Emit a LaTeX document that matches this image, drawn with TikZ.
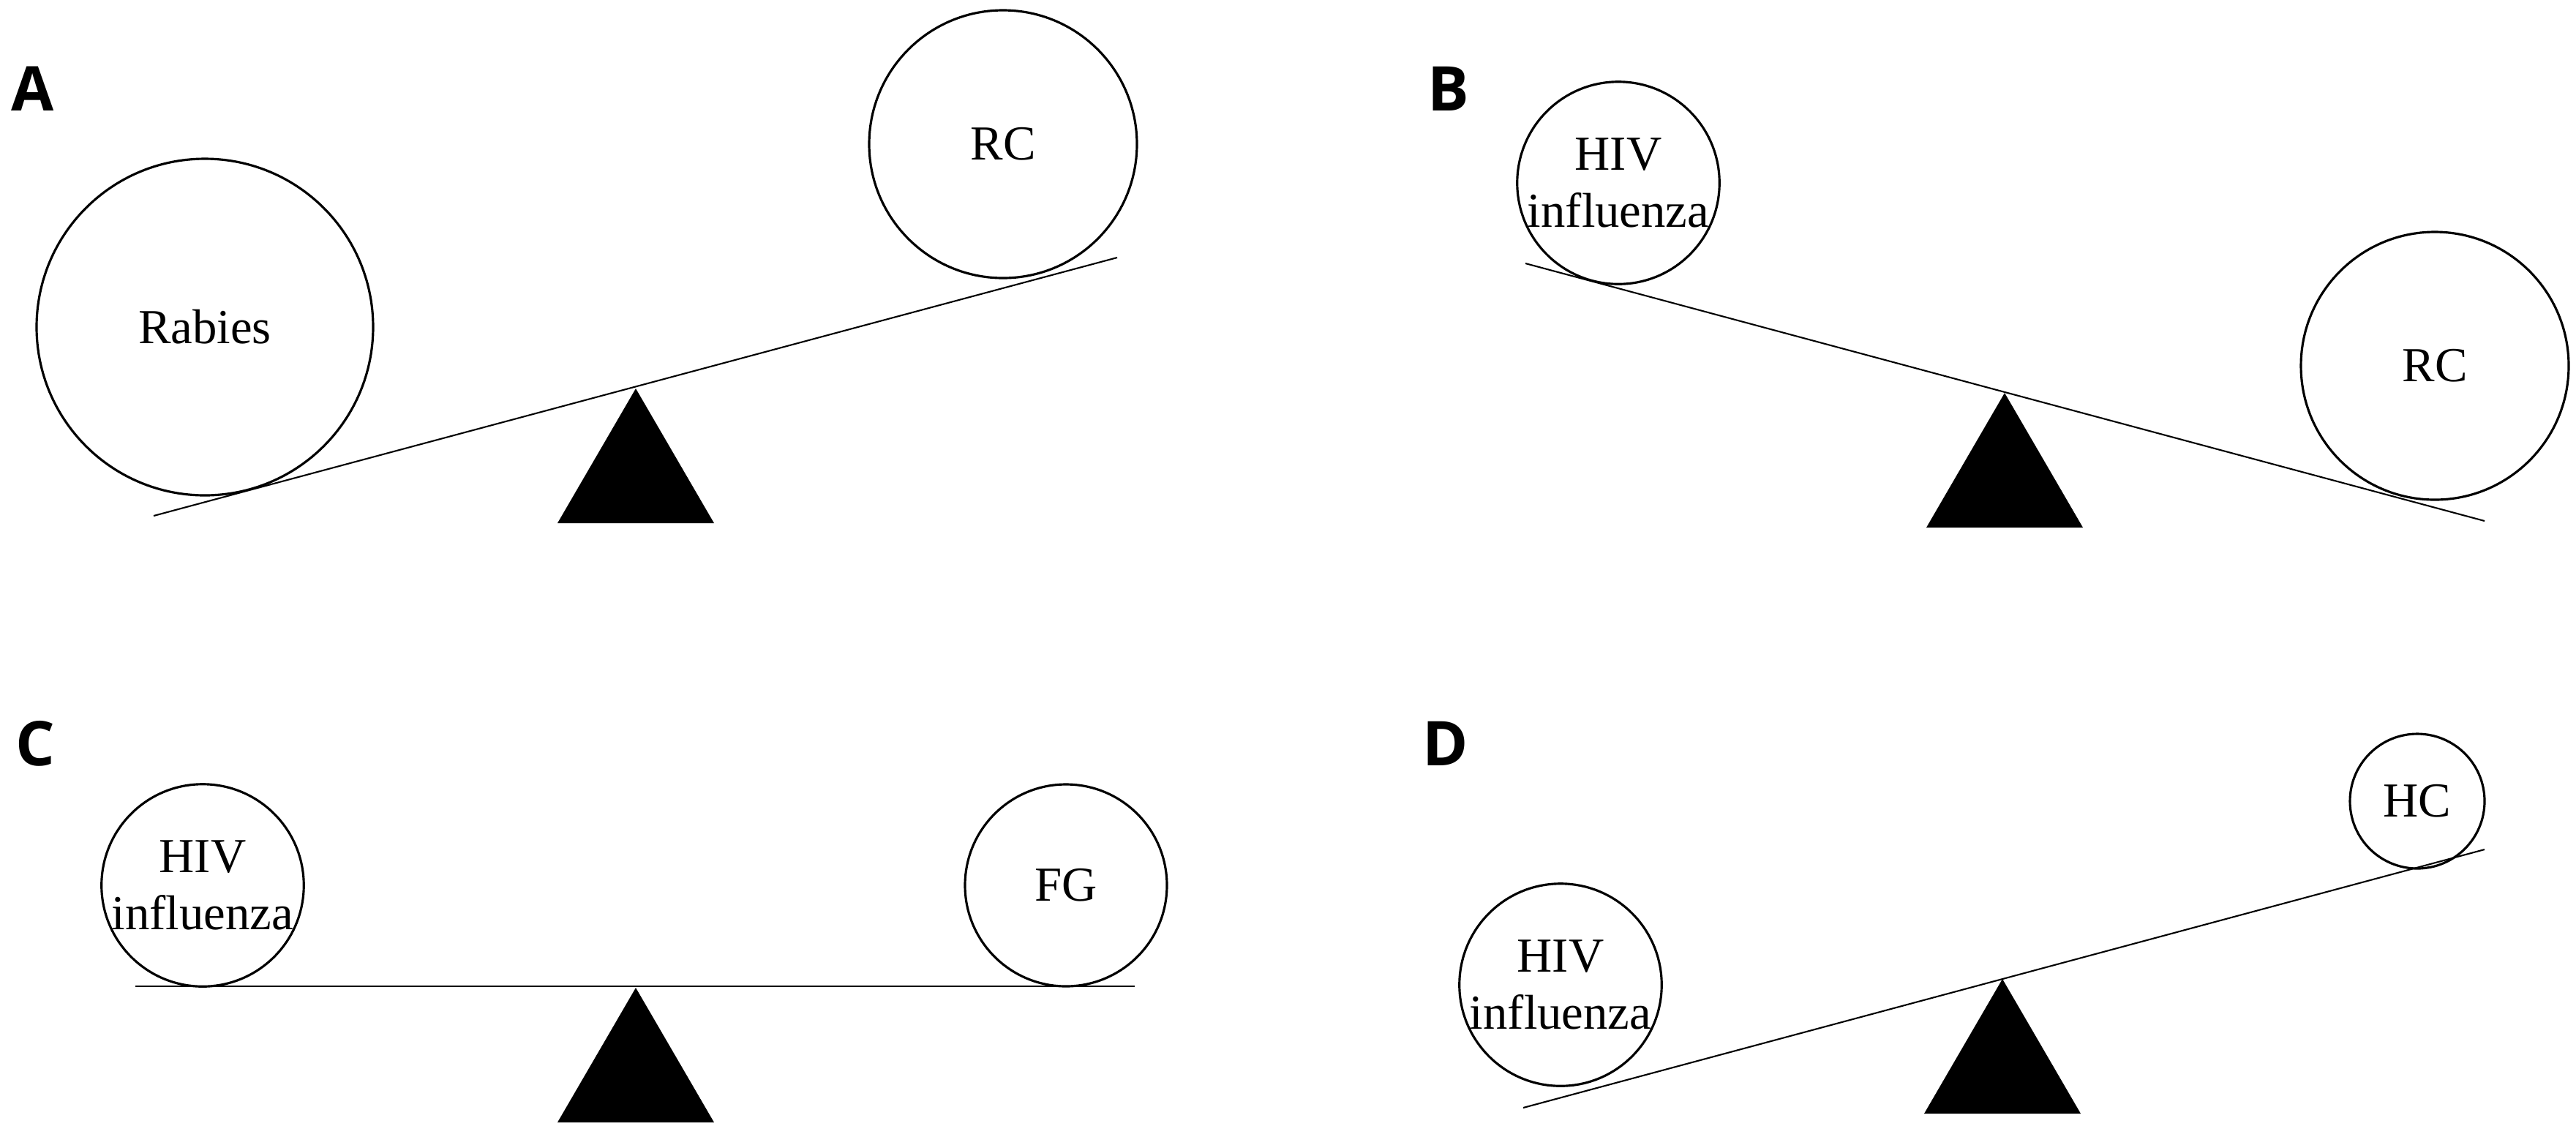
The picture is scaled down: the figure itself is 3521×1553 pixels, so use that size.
\documentclass[tikz,border=0pt]{standalone}
\usepackage{fontspec}
\setmainfont{Liberation Serif}
\newfontfamily\panelfont{Open Sans}
\usetikzlibrary{positioning}

\tikzset{
  weight/.style={draw, circle, line width=0.9pt, inner sep=0pt, align=center,
    font=\fontsize{19}{22}\selectfont},
  beam/.style={line width=0.6pt},
  panel/.style={font=\panelfont\bfseries\fontsize{24}{24}\selectfont, inner sep=0pt}
}

\begin{document}
\begin{tikzpicture}[x=0.1mm, y=-0.1mm]

\useasboundingbox (0,0) rectangle (3521,1553);

% panel labels
\node[panel] (labA) at (45,121) {A};
\node[panel] (labB) at (1980,121) {B};
\node[panel] (labC) at (48,1016) {C};
\node[panel] (labD) at (1976,1016) {D};

% beams
\coordinate (a1) at (210,705);
\coordinate (a2) at (1527,352);
\draw[beam] (a1) -- (a2);
\coordinate (b1) at (2085,360);
\coordinate (b2) at (3396,712);
\draw[beam] (b1) -- (b2);
\coordinate (c1) at (185,1348);
\coordinate (c2) at (1551,1348);
\draw[beam] (c1) -- (c2);
\coordinate (d1) at (2082,1514);
\coordinate (d2) at (3396,1161);
\draw[beam] (d1) -- (d2);

% pivots
\foreach \x/\y in {869/531, 2740/537, 869/1350, 2737/1338}
\fill (\x,\y) --++(-107,184) --++(214,0) -- cycle;

% weights
\node[weight, minimum size=46mm] (rabies) at (280,447) {Rabies};
\node[weight, minimum size=36.6mm] (rcA) at (1371,197) {RC};

\node[weight, minimum size=27.6mm] (hivB) at (2212,250) {HIV\\influenza};
\node[weight, minimum size=36.6mm] (rcB) at (3328,500) {RC};

\node[weight, minimum size=27.6mm] (hivC) at (277,1210) {HIV\\influenza};
\node[weight, minimum size=27.6mm] (fg) at (1457,1210) {FG};

\node[weight, minimum size=27.4mm] (hivD) at (2133,1346) {HIV\\influenza};
\node[weight, minimum size=18.4mm] (hc) at (3304,1095) {HC};

\end{tikzpicture}
\end{document}
